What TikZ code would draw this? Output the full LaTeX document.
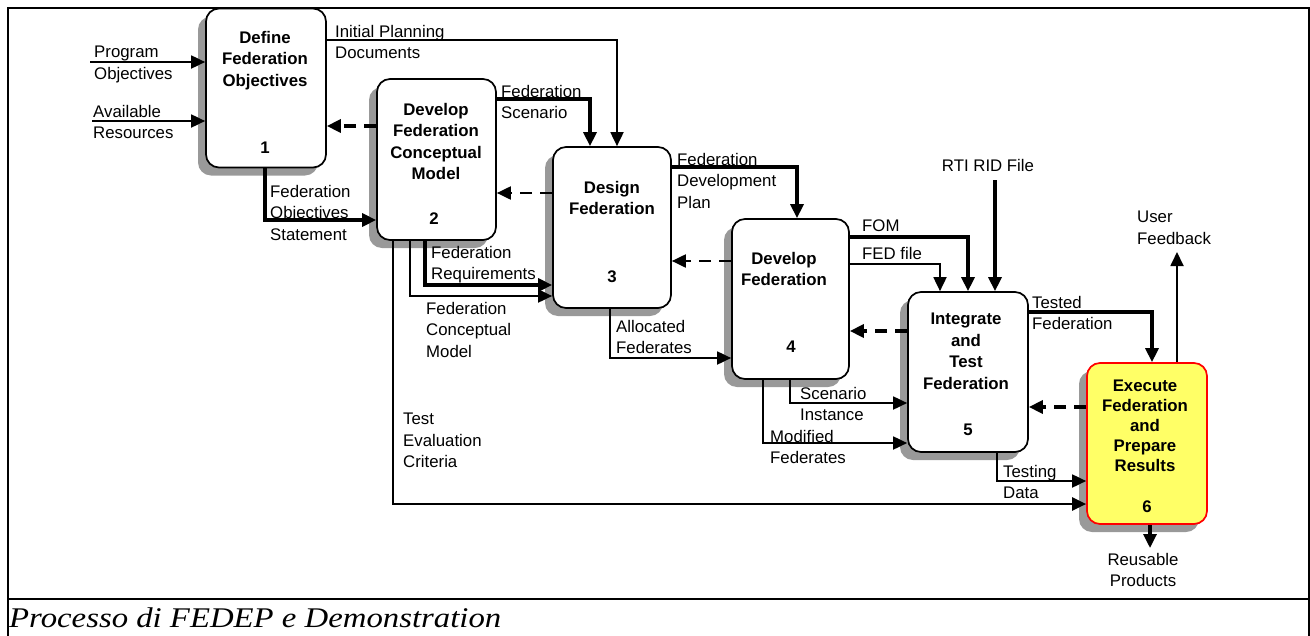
\documentclass[tikz,border=0pt]{standalone}
\usepackage{fontspec}
\setmainfont{Liberation Serif}
\newfontfamily\arialfont{Liberation Sans}
\newfontfamily\capfont{Liberation Serif}[FakeStretch=1.15]
\usetikzlibrary{arrows.meta,shadows}
\definecolor{shadowgray}{HTML}{999999}
\definecolor{execyellow}{HTML}{FFFF66}

\begin{document}
\begin{tikzpicture}[x=1pt,y=-1pt,
  lbl/.style={font=\arialfont\fontsize{16.8}{21.5}\selectfont, inner sep=0pt, align=left, anchor=north west},
  ttl/.style={font=\arialfont\bfseries\fontsize{16.8}{21.5}\selectfont, inner sep=0pt, align=center, anchor=north},
  num/.style={font=\arialfont\bfseries\fontsize{16.8}{20}\selectfont, inner sep=0pt},
  box/.style={draw, line width=1.7pt, rounded corners=13pt, fill=white,
    minimum width=120pt, minimum height=160pt, inner sep=0pt,
    general shadow={fill=shadowgray, shadow xshift=-8pt, shadow yshift=-8pt}},
  tip/.style={-{Triangle[length=14pt,width=13pt]}},
  flow/.style={tip, line width=1.8pt},
  heavy/.style={tip, line width=3.2pt},
  back/.style={tip, line width=3.4pt, dash pattern=on 12pt off 8pt},
  backthin/.style={tip, line width=2pt, dash pattern=on 12pt off 8pt},
]
\useasboundingbox (0,0) rectangle (1310,635);

% frame and caption cell
\draw[line width=1.9pt] (8,640) -- (8,8) -- (1309,8) -- (1309,640);
\draw[line width=1.9pt] (8,599) -- (1309,599);
\node[anchor=base west, inner sep=0pt, font=\capfont\itshape\fontsize{28.5}{32}\selectfont] (caption) at (9,627) {Processo di FEDEP e Demonstration};

% process boxes
\node[box, minimum height=159pt] (b1) at (266,88) {};
\node[box, minimum width=119pt, minimum height=161pt] (b2) at (436.5,159.5) {};
\node[box, minimum width=118pt, minimum height=161pt] (b3) at (612,227.5) {};
\node[box, minimum width=117pt, minimum height=160pt] (b4) at (790.5,299) {};
\node[box, minimum height=160pt] (b5) at (968,372) {};
\node[box, draw=red, fill=execyellow, minimum height=161pt] (b6) at (1147,443.5) {};

% box titles and numbers
\node[ttl] (t1) at (265,31) {Define\\Federation\\Objectives};
\node[num] (n1) at (265,148) {1};
\node[ttl] (t2) at (436,103) {Develop\\Federation\\Conceptual\\Model};
\node[num] (n2) at (434,219) {2};
\node[ttl] (t3) at (612,181) {Design\\Federation};
\node[num] (n3) at (612,277) {3};
\node[ttl] (t4) at (784,252) {Develop\\Federation};
\node[num] (n4) at (791,347) {4};
\node[ttl] (t5) at (966,313) {Integrate\\and\\Test\\Federation};
\node[num] (n5) at (968,430) {5};
\node[ttl, font=\arialfont\bfseries\fontsize{16.8}{20}\selectfont] (t6) at (1145,380) {Execute\\Federation\\and\\Prepare\\Results};
\node[num] (n6) at (1147,507) {6};

% external inputs and outputs
\coordinate (progin) at (90,62);
\coordinate (resin) at (92,121);
\coordinate (rtiin) at (995,180);
\coordinate (userout) at (1177,252);
\coordinate (reuseout) at (1150,548);
\draw[flow] (progin) -- (progin -| b1.west);
\draw[flow] (resin) -- (resin -| b1.west);
\draw[heavy] (rtiin) -- (rtiin |- b5.north);
\draw[flow] (userout |- b6.north) -- (userout);
\draw[heavy] (reuseout |- b6.south) -- (reuseout);

% forward products
\draw[flow] (b1.east |- 0,40) -| (617,0 |- b3.north);
\draw[heavy] (265,0 |- b1.south) |- (b2.west |- 0,220);
\draw[heavy] (b2.east |- 0,99) -| (590,0 |- b3.north);
\draw[heavy] (425,0 |- b2.south) |- (b3.west |- 0,285);
\draw[flow] (410,0 |- b2.south) |- (b3.west |- 0,296);
\draw[line width=2.4pt, tip] (393,0 |- b2.south) |- (b6.west |- 0,504);
\draw[heavy] (b3.east |- 0,167) -| (797,0 |- b4.north);
\draw[flow] (610,0 |- b3.south) |- (b4.west |- 0,358);
\draw[heavy] (b4.east |- 0,237) -| (968,0 |- b5.north);
\draw[flow] (b4.east |- 0,264) -| (940,0 |- b5.north);
\draw[flow] (790,0 |- b4.south) |- (b5.west |- 0,403);
\draw[flow] (763,0 |- b4.south) |- (b5.west |- 0,443);
\draw[heavy] (b5.east |- 0,312) -| (1152,0 |- b6.north);
\draw[flow] (997,0 |- b5.south) |- (b6.west |- 0,481);

% feedback paths
\draw[back] (b2.west |- 0,126) -- (b1.east |- 0,126);
\draw[backthin] (b3.west |- 0,193) -- (b2.east |- 0,193);
\draw[backthin] (b4.west |- 0,261) -- (b3.east |- 0,261);
\draw[back] (b5.west |- 0,331) -- (b4.east |- 0,331);
\draw[back] (b6.west |- 0,407) -- (b5.east |- 0,407);

% connector labels
\node[lbl] (lprog) at (94,46) {Program\\Objectives};
\node[lbl] (lres) at (93,105) {Available\\Resources};
\node[lbl] (lipd) at (335,25) {Initial Planning\\Documents};
\node[lbl] (lfos) at (270,185) {Federation\\Objectives\\Statement};
\node[lbl] (lfs) at (501,85) {Federation\\Scenario};
\node[lbl] (lfr) at (431,246) {Federation\\Requirements};
\node[lbl] (lfcm) at (426,302) {Federation\\Conceptual\\Model};
\node[lbl] (ltec) at (403,413) {Test\\Evaluation\\Criteria};
\node[lbl] (lfdp) at (677,153) {Federation\\Development\\Plan};
\node[lbl] (laf) at (616,320) {Allocated\\Federates};
\node[lbl, anchor=center] (lrti) at (988,165) {RTI RID File};
\node[lbl] (lfom) at (862,220) {FOM};
\node[lbl] (lfed) at (862,247) {FED file};
\node[lbl] (luf) at (1137,211) {User\\Feedback};
\node[lbl] (ltf) at (1032,296) {Tested\\Federation};
\node[lbl] (lsi) at (800,387) {Scenario\\Instance};
\node[lbl] (lmf) at (770,430) {Modified\\Federates};
\node[lbl] (ltd) at (1003,465) {Testing\\Data};
\node[lbl, align=center, anchor=north] (lrp) at (1143,553) {Reusable\\Products};
\end{tikzpicture}
\end{document}
